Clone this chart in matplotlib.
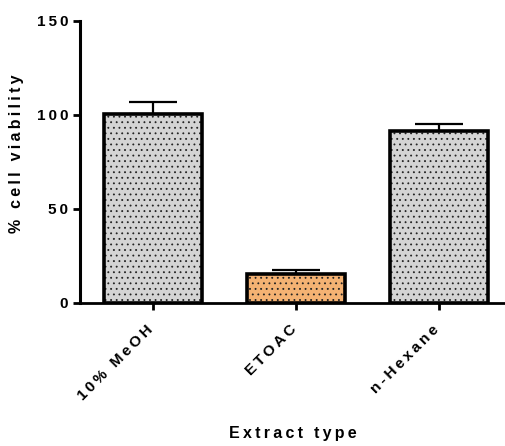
import numpy as np
import matplotlib.pyplot as plt
from matplotlib.transforms import ScaledTranslation

plt.rcParams['font.family'] = ['Liberation Sans', 'DejaVu Sans']
plt.rcParams['font.weight'] = 'bold'
plt.rcParams['hatch.linewidth'] = 0.6

# cell viability per extract (mean and upper SD)
extracts = ['10% MeOH', 'ETOAC', 'n-Hexane']
viability = [100.5, 15.4, 91.5]
sd = [6.5, 2.0, 3.5]
colors = ['#d4d4d4', '#f4b273', '#d4d4d4']
yticks = [0, 50, 100, 150]


def spaced(s):
    # wide tracking like the Prism export
    return '\u2009'.join(s)


fig = plt.figure(figsize=(5.06, 4.46), dpi=100)
ax = fig.add_axes([80 / 506, 143 / 446, 425 / 506, 282 / 446])

x = np.arange(len(extracts))
w = 0.685

# error bars first so the bar outline sits over the stem
ax.errorbar(x, viability, yerr=[np.zeros(3), sd], fmt='none', ecolor='black',
            elinewidth=1.6, capsize=17, capthick=1.6, zorder=1)
# fill with dotted hatch, then the heavy outline on top
ax.bar(x, viability, width=w, color=colors, edgecolor='#222222', linewidth=0,
       hatch='...', zorder=2)
ax.bar(x, viability, width=w, facecolor='none', edgecolor='black',
       linewidth=2.6, zorder=3)

ax.set_xlim(-0.51, 2.46)
ax.set_ylim(0, 150)

for s in ['top', 'right']:
    ax.spines[s].set_visible(False)
ax.spines['left'].set_linewidth(2.2)
ax.spines['bottom'].set_linewidth(2.0)
ax.tick_params(axis='both', width=2, length=5, direction='out')
ax.tick_params(axis='x', pad=6)

ax.set_yticks(yticks)
ax.set_yticklabels([spaced(str(t)) for t in yticks], fontsize=11, fontweight='bold')
ax.set_xticks(x)
ax.set_xticklabels([spaced(e) for e in extracts], rotation=45, ha='right',
                   rotation_mode='anchor', fontsize=11, fontweight='bold')
# nudge the slanted labels so their ends sit under the ticks
shift = ScaledTranslation(-7 / 100, -4 / 100, fig.dpi_scale_trans)
for lbl in ax.get_xticklabels():
    lbl.set_transform(lbl.get_transform() + shift)

ax.set_ylabel(spaced('% cell viability'), fontsize=11.5, fontweight='bold')
ax.yaxis.set_label_coords(-0.132, 0.53)
ax.set_xlabel(spaced('Extract type'), fontsize=11.5, fontweight='bold', labelpad=17)

fig.savefig('out.png', dpi=100)
